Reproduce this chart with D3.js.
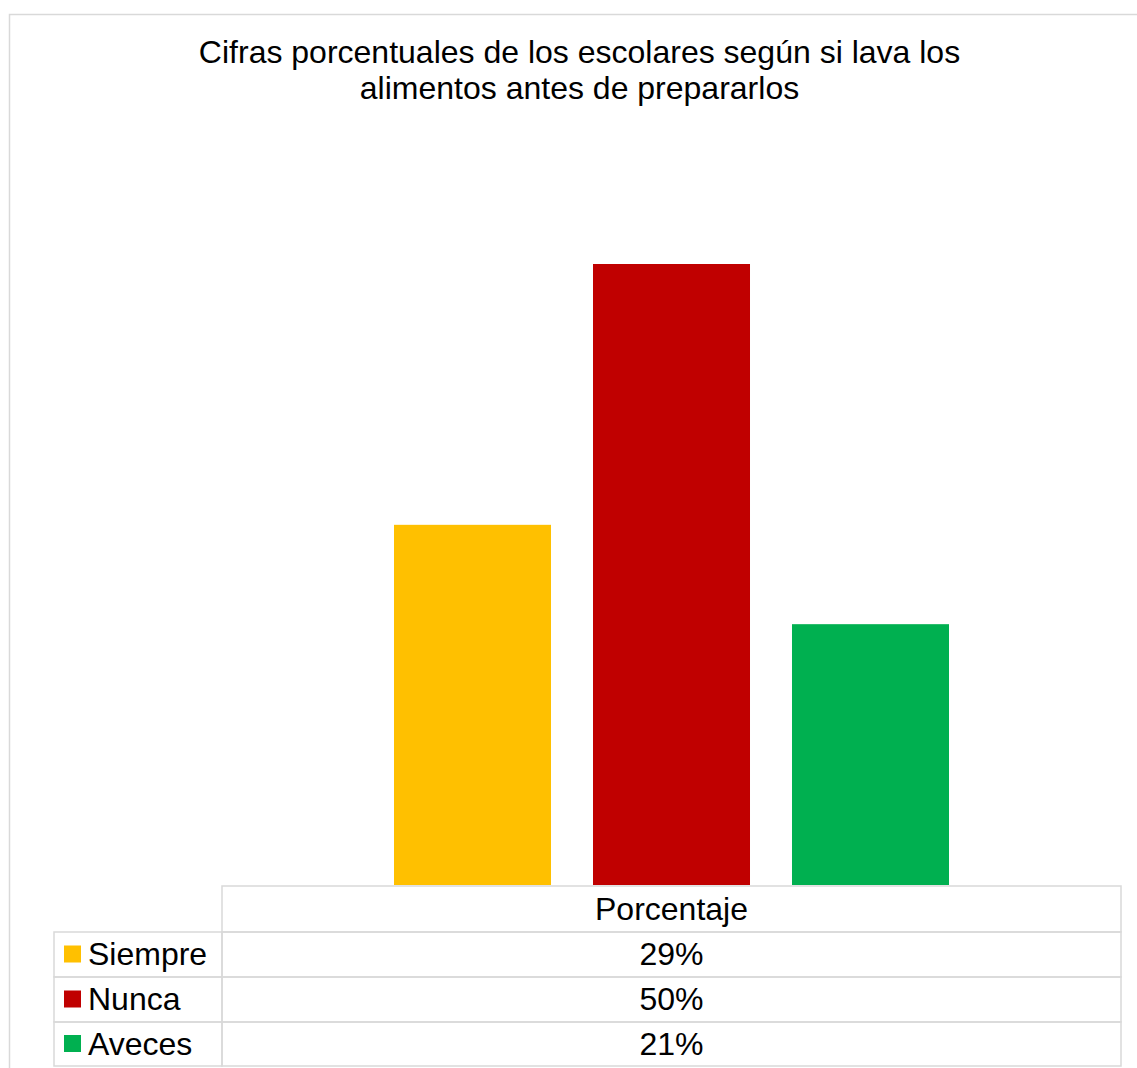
<!DOCTYPE html>
<html>
<head>
<meta charset="utf-8">
<script src="https://cdn.jsdelivr.net/npm/d3@7"></script>
<style>
  html, body { margin: 0; padding: 0; background: #fff; }
  svg { display: block; }
  text { font-family: "Liberation Sans", Arial, sans-serif; fill: #000; }
</style>
</head>
<body>
<svg id="chart" width="1137" height="1068"></svg>
<script>
// Data
const titleLines = ["Cifras porcentuales de los escolares según si lava los", "alimentos antes de prepararlos"];
const categories = ["Porcentaje"];
const seriesNames = ["Siempre", "Nunca", "Aveces"];
const seriesValues = [0.29, 0.50, 0.21];
const seriesColors = ["#FFC000", "#C00000", "#00B050"];
const yDomain = [0, 0.6];

const svg = d3.select("#chart");
const W = 1137, H = 1068;
const gridColor = "#d9d9d9";
const fontSize = 32;

// Chart area border
svg.append("rect")
  .attr("x", 9.5).attr("y", 14.5)
  .attr("width", W + 20).attr("height", H + 20)
  .attr("fill", "#fff").attr("stroke", gridColor).attr("stroke-width", 1.5);

// Title
svg.append("text")
  .attr("text-anchor", "middle")
  .attr("font-size", fontSize)
  .selectAll("tspan")
  .data(titleLines)
  .join("tspan")
  .attr("x", 579.5)
  .attr("y", (d, i) => 62.5 + i * 36.5)
  .text(d => d);

// Plot geometry
const plotLeft = 222, plotRight = 1121;
const baseline = 885;

const x0 = d3.scaleBand().domain(categories).range([plotLeft, plotRight]).padding(0);
const groupOuter = 172;
const x1 = d3.scaleBand().domain(seriesNames)
  .range([groupOuter, x0.bandwidth() - groupOuter])
  .paddingInner(0.211).paddingOuter(0);

const y = d3.scaleLinear().domain(yDomain).range([baseline, baseline - 621 * 1.2]);

// Bars
const series = seriesNames.map((name, i) => ({ name, value: seriesValues[i], color: seriesColors[i] }));
const groups = svg.append("g").selectAll("g")
  .data(categories)
  .join("g")
  .attr("transform", d => `translate(${x0(d)},0)`);

groups.selectAll("rect")
  .data(series)
  .join("rect")
  .attr("x", d => x1(d.name))
  .attr("width", x1.bandwidth())
  .attr("y", d => y(d.value))
  .attr("height", d => y(0) - y(d.value))
  .attr("fill", d => d.color);

// Data table under the plot
const headerTop = 886, rowTops = [932, 977, 1022], tableBottom = 1066;
const labelLeft = 54;
const table = svg.append("g")
  .attr("fill", "none").attr("stroke", gridColor).attr("stroke-width", 1.5);

// header cell
table.append("rect")
  .attr("x", plotLeft).attr("y", headerTop)
  .attr("width", plotRight - plotLeft).attr("height", rowTops[0] - headerTop);
// series rows
const rowEdges = rowTops.concat([tableBottom]);
series.forEach((s, i) => {
  table.append("rect")
    .attr("x", labelLeft).attr("y", rowEdges[i])
    .attr("width", plotLeft - labelLeft).attr("height", rowEdges[i + 1] - rowEdges[i]);
  table.append("rect")
    .attr("x", plotLeft).attr("y", rowEdges[i])
    .attr("width", plotRight - plotLeft).attr("height", rowEdges[i + 1] - rowEdges[i]);
});

const fmt = d3.format(".0%");
const colCenter = x0(categories[0]) + x0.bandwidth() / 2;

svg.append("text")
  .attr("x", colCenter).attr("y", (headerTop + rowTops[0]) / 2 + 10.5)
  .attr("text-anchor", "middle").attr("font-size", fontSize)
  .text(categories[0]);

series.forEach((s, i) => {
  const mid = (rowEdges[i] + rowEdges[i + 1]) / 2;
  svg.append("rect")
    .attr("x", 64).attr("y", mid - 9)
    .attr("width", 17).attr("height", 17)
    .attr("fill", s.color);
  svg.append("text")
    .attr("x", 88).attr("y", mid + 10.5)
    .attr("font-size", fontSize)
    .text(s.name);
  svg.append("text")
    .attr("x", colCenter).attr("y", mid + 10.5)
    .attr("text-anchor", "middle").attr("font-size", fontSize)
    .text(fmt(s.value));
});
</script>
</body>
</html>
